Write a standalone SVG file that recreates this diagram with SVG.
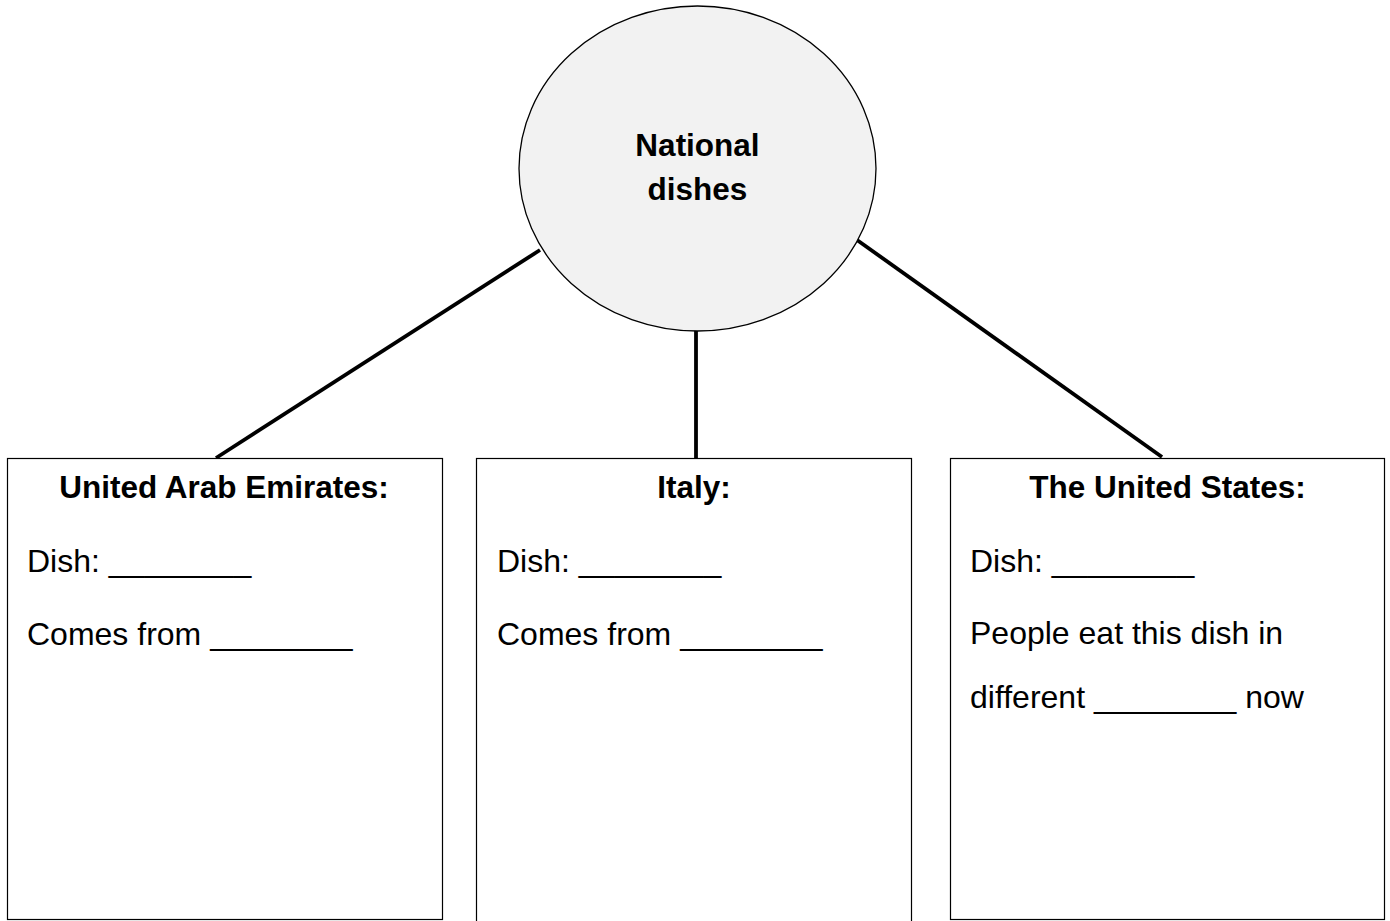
<svg xmlns="http://www.w3.org/2000/svg" width="1390" height="921" viewBox="0 0 1390 921">
<style>
.box{fill:#fff;stroke:#000;stroke-width:1.2}
.hub{fill:#f2f2f2;stroke:#000;stroke-width:1.3}
.con{stroke:#000;stroke-width:3.8;fill:none}
.h{font-family:"Liberation Sans",Arial,sans-serif;font-weight:bold;font-size:31.5px;text-anchor:middle;fill:#000}
.t{font-family:"Liberation Sans",Arial,sans-serif;font-size:32px;fill:#000}
</style>
<rect width="1390" height="921" fill="#fff"/>
<g id="connectors">
<line class="con" x1="540" y1="250" x2="216" y2="458"/>
<line class="con" x1="696" y1="330" x2="696" y2="458"/>
<line class="con" x1="857" y1="240" x2="1162" y2="457"/>
</g>
<g id="hub">
<ellipse class="hub" cx="697.5" cy="168.5" rx="178.5" ry="162.5"/>
<text class="h" x="697.5" y="156">National</text>
<text class="h" x="697.5" y="200">dishes</text>
</g>
<g id="uae">
<rect class="box" x="7.5" y="458.5" width="435" height="461"/>
<text class="h" x="224" y="498">United Arab Emirates:</text>
<text class="t" x="27" y="572">Dish: ________</text>
<text class="t" x="27" y="645">Comes from ________</text>
</g>
<g id="italy">
<rect class="box" x="476.5" y="458.5" width="435" height="470"/>
<text class="h" x="694" y="498">Italy:</text>
<text class="t" x="497" y="572">Dish: ________</text>
<text class="t" x="497" y="645">Comes from ________</text>
</g>
<g id="usa">
<rect class="box" x="950.5" y="458.5" width="434" height="461"/>
<text class="h" x="1167.5" y="498">The United States:</text>
<text class="t" x="970" y="572">Dish: ________</text>
<text class="t" x="970" y="644">People eat this dish in</text>
<text class="t" x="970" y="708">different ________ now</text>
</g>
</svg>
